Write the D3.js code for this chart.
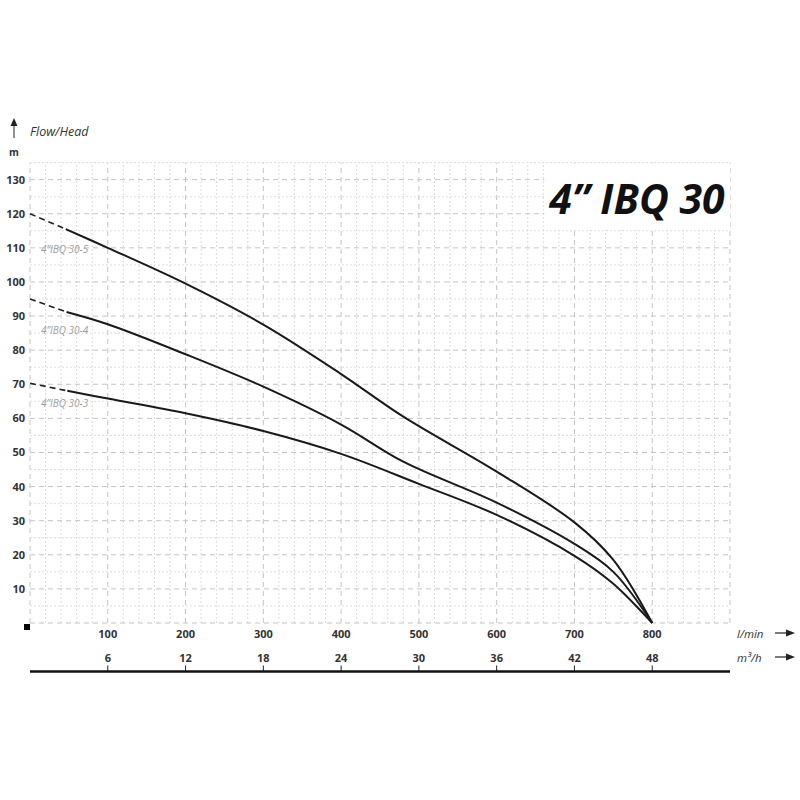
<!DOCTYPE html>
<html><head><meta charset="utf-8">
<script src="https://cdn.jsdelivr.net/npm/d3@7"></script>
<style>body{margin:0;background:#fff}svg{display:block}text{font-family:"Open Sans",sans-serif}</style>
</head><body><svg id="c" width="800" height="800"></svg>
<script>
const title = "4\u201D IBQ 30";
const yTicks = [10,20,30,40,50,60,70,80,90,100,110,120,130];
const lminTicks = [100,200,300,400,500,600,700,800];
const m3hTicks = [6,12,18,24,30,36,42,48];
const seriesNames = ["4\u201DIBQ 30-5","4\u201DIBQ 30-4","4\u201DIBQ 30-3"];
const labelHeads = [108.5, 84.8, 63.3];
// dashed extrapolation start [flow, head]
const dash5 = [[0,120],[46,115.5]];
const dash4 = [[0,95],[47,91.2]];
const dash3 = [[0,70.3],[48,68.1]];
// solid curves [flow l/min, head m]
const curve5 = [[46,115.5],[100,110],[200,99.5],[300,87.5],[400,73],[480,60.5],[600,44.4],[700,29.5],[750,18.5],[800,0]];
const curve4 = [[47,91.2],[100,87.6],[200,78.8],[300,69.3],[400,58.2],[480,47.3],[600,35.3],[700,23.2],[750,15],[800,0]];
const curve3 = [[48,68.1],[100,65.8],[200,61.5],[300,56.3],[400,49.6],[500,40.8],[600,31.7],[700,19.7],[750,11.5],[800,0]];

const svg = d3.select("#c");
const x = d3.scaleLinear().domain([0,900]).range([30,730]);
const y = d3.scaleLinear().domain([0,135]).range([623,162.6]);

// grid
const g = svg.append("g");
d3.range(0,901,20).forEach(v=>{
  const major = v%100===0;
  g.append("line").attr("x1",x(v)).attr("x2",x(v)).attr("y1",y(0)).attr("y2",y(135))
   .attr("stroke", major?"#c4c4c4":"#dcdcdc").attr("stroke-width",1)
   .attr("stroke-dasharray", major?"5,4":"2,2");
});
d3.range(0,136,5).forEach(v=>{
  const major = v%10===0;
  g.append("line").attr("x1",x(0)).attr("x2",x(900)).attr("y1",y(v)).attr("y2",y(v))
   .attr("stroke", major?"#c4c4c4":"#dcdcdc").attr("stroke-width",1)
   .attr("stroke-dasharray", major?"5,4":"2,2");
});

// title box
svg.append("rect").attr("x",x(660)+1).attr("y",y(135)+1).attr("width",x(900)-x(660)-1).attr("height",y(115)-y(135)-2).attr("fill","#fff");
svg.append("text").attr("x",637).attr("y",214).attr("text-anchor","middle")
  .attr("font-size",41).attr("font-weight","bold").attr("font-style","italic").attr("fill","#111").text(title);

// curves
const line = d3.line().x(d=>x(d[0])).y(d=>y(d[1])).curve(d3.curveCatmullRom.alpha(0.5));
[dash5,dash4,dash3].forEach(d=>svg.append("path").attr("d",line(d)).attr("fill","none").attr("stroke","#222").attr("stroke-width",1.6).attr("stroke-dasharray","6,4"));
[curve5,curve4,curve3].forEach(d=>svg.append("path").attr("d",line(d)).attr("fill","none").attr("stroke","#1a1a1a").attr("stroke-width",2));

// series labels
seriesNames.forEach((n,i)=>svg.append("text").attr("x",41).attr("y",y(labelHeads[i])).attr("font-size",10)
  .attr("font-style","italic").attr("fill","#9e9e9e").text(n));

// y axis labels
yTicks.forEach(v=>svg.append("text").attr("x",25).attr("y",y(v)+4).attr("text-anchor","end")
  .attr("font-size",11).attr("font-weight","bold").attr("fill","#333").text(v));
svg.append("text").attr("x",14).attr("y",156).attr("text-anchor","middle").attr("font-size",10).attr("font-weight","bold").attr("fill","#333").text("m");
svg.append("text").attr("x",30).attr("y",136).attr("font-size",12.5).attr("font-style","italic").attr("fill","#333").text("Flow/Head");
svg.append("line").attr("x1",14).attr("x2",14).attr("y1",138).attr("y2",125).attr("stroke","#222").attr("stroke-width",1);
svg.append("path").attr("d","M10.5,126 L14,118 L17.5,126 Z").attr("fill","#222");

// origin square
svg.append("rect").attr("x",24).attr("y",624).attr("width",6).attr("height",6).attr("fill","#000");

// x labels
lminTicks.forEach(v=>svg.append("text").attr("x",x(v)).attr("y",638).attr("text-anchor","middle")
  .attr("font-size",11).attr("font-weight","bold").attr("fill","#333").text(v));
const xm = d3.scaleLinear().domain([0,54]).range([30,730]);
m3hTicks.forEach(v=>{
  svg.append("text").attr("x",xm(v)).attr("y",662).attr("text-anchor","middle")
   .attr("font-size",11).attr("font-weight","bold").attr("fill","#333").text(v);
  svg.append("line").attr("x1",xm(v)).attr("x2",xm(v)).attr("y1",665.5).attr("y2",671).attr("stroke","#222").attr("stroke-width",1);
});
svg.append("line").attr("x1",30).attr("x2",730).attr("y1",671.5).attr("y2",671.5).attr("stroke","#111").attr("stroke-width",2.5);

// unit labels + arrows
svg.append("text").attr("x",737).attr("y",638).attr("font-size",11.5).attr("font-style","italic").attr("fill","#333").text("l/min");
svg.append("text").attr("x",737).attr("y",662).attr("font-size",11.5).attr("font-style","italic").attr("fill","#333").text("m\u00B3/h");
[633,657].forEach(yy=>{
  svg.append("line").attr("x1",775).attr("x2",788).attr("y1",yy).attr("y2",yy).attr("stroke","#222").attr("stroke-width",1.2);
  svg.append("path").attr("d",`M786,${yy-3.5} L795,${yy} L786,${yy+3.5} Z`).attr("fill","#222");
});
</script></body></html>
